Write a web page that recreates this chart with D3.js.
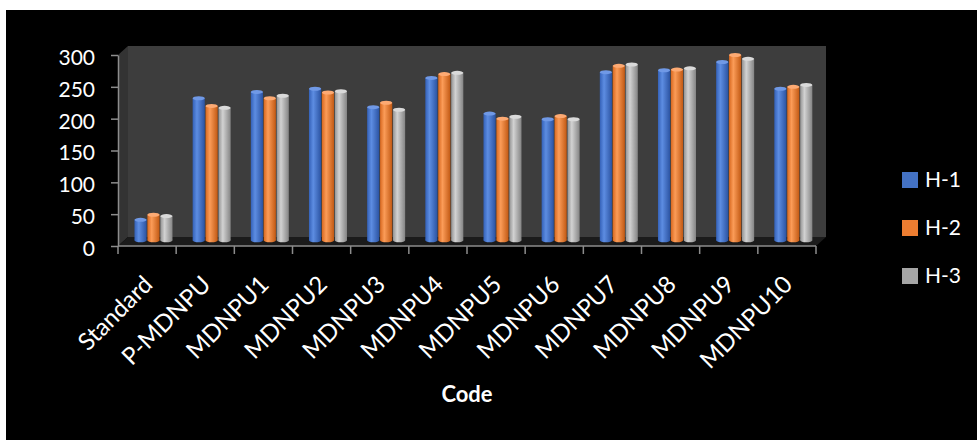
<!DOCTYPE html>
<html>
<head>
<meta charset="utf-8">
<script src="https://cdn.jsdelivr.net/npm/d3@7"></script>
<style>
  html, body { margin: 0; padding: 0; background: #ffffff; }
  svg { display: block; }
  text { font-family: Lato, "Open Sans", sans-serif; }
</style>
</head>
<body>
<svg id="chart" width="977" height="440"></svg>
<script>
// Category codes along the horizontal axis
const categories = ["Standard", "P-MDNPU", "MDNPU1", "MDNPU2", "MDNPU3", "MDNPU4",
                    "MDNPU5", "MDNPU6", "MDNPU7", "MDNPU8", "MDNPU9", "MDNPU10"];
const seriesNames = ["H-1", "H-2", "H-3"];

// Measured values per series
const h1 = [32, 223, 233, 238, 209, 255, 199, 190, 264, 267, 280, 238];
const h2 = [40, 211, 223, 232, 216, 261, 191, 195, 274, 268, 291, 241];
const h3 = [38, 208, 227, 234, 205, 263, 194, 190, 276, 270, 285, 244];

const yTicks = [0, 50, 100, 150, 200, 250, 300];
const xTitle = "Code";

const seriesValues = [h1, h2, h3];
const palette = [
  { base: "#4472C4", edgeL: "#3461b8", light: "#5d8de2", edgeR: "#2b53a2", cap: "#7099e6" },
  { base: "#ED7D31", edgeL: "#d8681f", light: "#fb9c58", edgeR: "#c25913", cap: "#fdaa73" },
  { base: "#A5A5A5", edgeL: "#939393", light: "#d2d2d2", edgeR: "#858585", cap: "#dadada" }
];

const svg = d3.select("#chart");

// Chart area background
svg.append("rect").attr("x", 6).attr("y", 10).attr("width", 971).attr("height", 430).attr("fill", "#000");

// Scales (front plane of the 3D box)
const x0 = d3.scaleBand().domain(categories).range([118, 816]).padding(0);
const y = d3.scaleLinear().domain([0, 300]).range([246, 55]);
const depth = { dx: 10, dy: -9 };
const plane = 0.64; // depth position of the cylinders within the box
const x1 = d3.scaleBand().domain(seriesNames).range([0, 38]).paddingInner(0.06);

const [xL, xR] = x0.range();
const yTop = y(300), yBot = y(0);

// Side wall, back wall, floor
svg.append("polygon")
  .attr("points", [[xL, yTop], [xL + depth.dx, yTop + depth.dy], [xL + depth.dx, yBot + depth.dy], [xL, yBot]].join(" "))
  .attr("fill", "#333333");
svg.append("rect")
  .attr("x", xL + depth.dx).attr("y", yTop + depth.dy)
  .attr("width", xR - xL).attr("height", yBot - yTop)
  .attr("fill", "#3d3d3d");
svg.append("polygon")
  .attr("points", [[xL, yBot], [xR, yBot], [xR + depth.dx, yBot + depth.dy], [xL + depth.dx, yBot + depth.dy]].join(" "))
  .attr("fill", "#1b1b1b");

// Cylinder gradients
const defs = svg.append("defs");
palette.forEach((p, i) => {
  const g = defs.append("linearGradient").attr("id", "cyl" + i)
    .attr("x1", "0%").attr("x2", "100%").attr("y1", "0%").attr("y2", "0%");
  g.append("stop").attr("offset", "0%").attr("stop-color", p.edgeL);
  g.append("stop").attr("offset", "35%").attr("stop-color", p.light);
  g.append("stop").attr("offset", "100%").attr("stop-color", p.edgeR);
});

// Cylinders
const shiftX = depth.dx * plane, shiftY = depth.dy * plane;
const groupOffset = x0.bandwidth() / 2 - 19 + shiftX;
const ry = 2;
const rows = [];
categories.forEach((c, ci) => {
  seriesNames.forEach((s, si) => rows.push({ c, s, si, v: seriesValues[si][ci] }));
});
const bars = svg.append("g").selectAll("g").data(rows).join("g");
bars.each(function (d) {
  const g = d3.select(this);
  const w = x1.bandwidth();
  const bx = x0(d.c) + groupOffset + x1(d.s);
  const base = y(0) + shiftY;
  const top = y(d.v) + shiftY;
  g.append("ellipse").attr("cx", bx + w / 2).attr("cy", base).attr("rx", w / 2).attr("ry", ry)
    .attr("fill", `url(#cyl${d.si})`);
  g.append("rect").attr("x", bx).attr("y", top).attr("width", w).attr("height", base - top)
    .attr("fill", `url(#cyl${d.si})`);
  g.append("ellipse").attr("cx", bx + w / 2).attr("cy", top).attr("rx", w / 2).attr("ry", ry)
    .attr("fill", palette[d.si].cap);
});

// Y axis
const yAxis = svg.append("g").attr("transform", `translate(${xL},0)`)
  .call(d3.axisLeft(y).tickValues(yTicks).tickSize(7).tickPadding(16).tickSizeOuter(0));
yAxis.select(".domain").attr("stroke", "#8c8c8c").attr("stroke-width", 1.5);
yAxis.selectAll(".tick line").attr("stroke", "#8c8c8c").attr("stroke-width", 1.5);
yAxis.selectAll(".tick text").attr("fill", "#fff").attr("font-size", 21).attr("dy", "0.45em");

// X axis line, boundary ticks and rotated labels
const xAxis = svg.append("g").attr("transform", `translate(0,${yBot})`);
xAxis.append("line").attr("x1", xL).attr("x2", xR).attr("y1", 0).attr("y2", 0)
  .attr("stroke", "#8c8c8c").attr("stroke-width", 1.5);
const bounds = categories.map(c => x0(c)).concat([xR]);
xAxis.selectAll("line.bt").data(bounds).join("line").attr("class", "bt")
  .attr("x1", d => d).attr("x2", d => d).attr("y1", 0).attr("y2", 8)
  .attr("stroke", "#8c8c8c").attr("stroke-width", 1.5);
xAxis.selectAll("text.cat").data(categories).join("text").attr("class", "cat")
  .attr("transform", d => `translate(${x0(d) + x0.bandwidth() / 2 + 7},${40}) rotate(-45)`)
  .attr("text-anchor", "end").attr("fill", "#fff").attr("font-size", 24)
  .text(d => d);

// Axis title
svg.append("text").attr("x", 467).attr("y", 402).attr("text-anchor", "middle")
  .attr("fill", "#fff").attr("font-size", 22).attr("font-weight", "bold").text(xTitle);

// Legend
const legend = svg.append("g").selectAll("g").data(seriesNames).join("g")
  .attr("transform", (d, i) => `translate(902,${172 + i * 48})`);
legend.append("rect").attr("width", 16).attr("height", 16).attr("fill", (d, i) => palette[i].base);
legend.append("text").attr("x", 23).attr("y", 15).attr("fill", "#fff").attr("font-size", 21).text(d => d);
</script>
</body>
</html>
